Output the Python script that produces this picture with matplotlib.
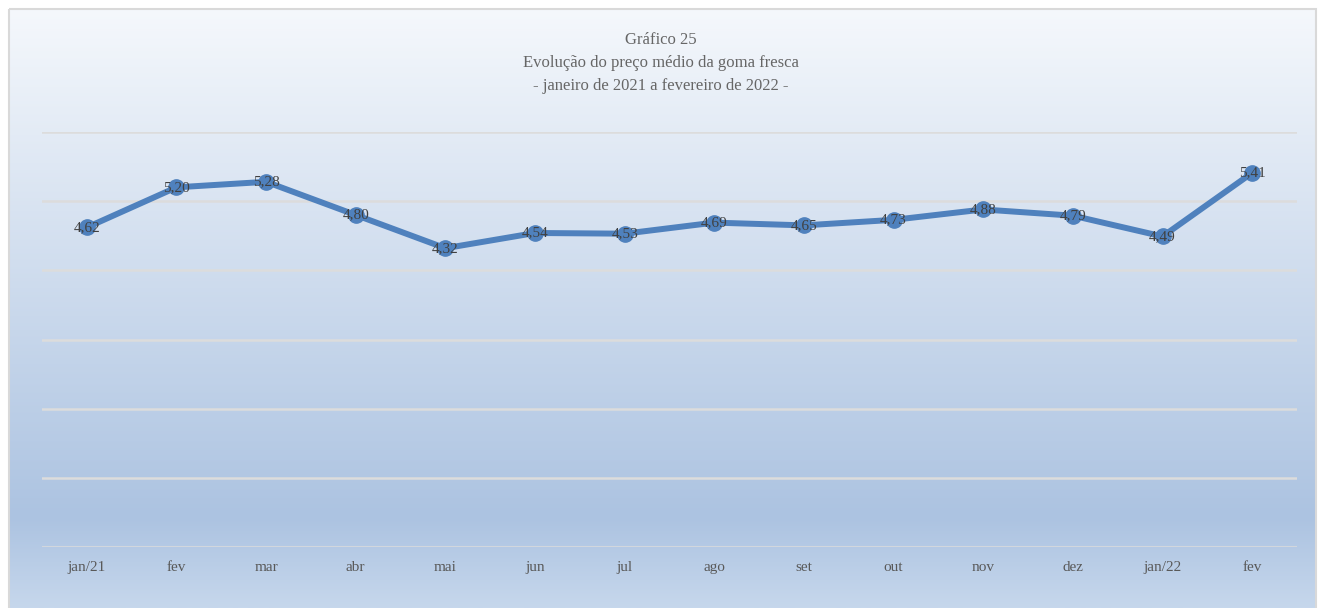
import matplotlib.pyplot as plt
import numpy as np
from matplotlib.patches import Rectangle

months = ["jan/21", "fev", "mar", "abr", "mai", "jun", "jul", "ago",
          "set", "out", "nov", "dez", "jan/22", "fev"]
prices = [4.62, 5.20, 5.28, 4.80, 4.32, 4.54, 4.53, 4.69,
          4.65, 4.73, 4.88, 4.79, 4.49, 5.41]

W, H = 1322, 608
fig = plt.figure(figsize=(W / 100, H / 100), dpi=100)
fig.patch.set_facecolor("white")

# <==== gradient background ====>
bg = fig.add_axes([0, 0, 1, 1])
bg.set_xlim(0, W)
bg.set_ylim(H, 0)
bg.axis("off")
top = np.array([245, 248, 252]) / 255
mid = np.array([172, 195, 225]) / 255
bot = np.array([198, 215, 236]) / 255
ys = np.linspace(0, 1, 300)
cols = []
for t in ys:
    if t < 0.85:
        c = top + (mid - top) * (t / 0.85)
    else:
        c = mid + (bot - mid) * ((t - 0.85) / 0.15)
    cols.append(c)
grad = np.array(cols)[:, None, :]
bg.imshow(grad, extent=[9, W - 6, H, 9], aspect="auto", zorder=0)
bg.add_patch(Rectangle((8.5, 8.5), W - 15, H, fill=False,
                       edgecolor="#d9d9d9", lw=1.5, zorder=1))

# <==== line chart ====>
ax = fig.add_axes([42 / W, 1 - 547 / H, (1297 - 42) / W, (547 - 132) / H])
ax.patch.set_alpha(0)
x = np.arange(len(months))
ax.plot(x, prices, color="#4f81bd", lw=4.3, marker="o", ms=11,
        markerfacecolor="#4f81bd", markeredgecolor="#4f81bd",
        solid_joinstyle="round", zorder=3)
for xi, v in zip(x, prices):
    ax.text(xi, v, f"{v:.2f}".replace(".", ","), ha="center", va="center",
            fontsize=11, color="#404040", family="Liberation Serif", zorder=4)

ax.set_xlim(-0.5, len(months) - 0.5)
ax.set_ylim(0, 6)
ax.set_yticks(range(0, 7))
ax.yaxis.grid(True, color="#dcdcdc", lw=1.8)
ax.set_axisbelow(True)
ax.set_yticklabels([])
ax.tick_params(axis="y", length=0)
ax.set_xticks(x)
ax.set_xticklabels(months, family="Liberation Serif", fontsize=11,
                   color="#595959")
ax.tick_params(axis="x", length=0, pad=10)
for s in ax.spines.values():
    s.set_visible(False)

fig.text(0.5, 1 - 40 / H, "Gráfico 25", ha="center", va="center",
         fontsize=12, color="#666666", family="Liberation Serif")
fig.text(0.5, 1 - 63 / H, "Evolução do preço médio da goma fresca",
         ha="center", va="center", fontsize=12, color="#666666",
         family="Liberation Serif")
fig.text(0.5, 1 - 86 / H, "- janeiro de 2021 a fevereiro de 2022 -",
         ha="center", va="center", fontsize=12, color="#666666",
         family="Liberation Serif")

fig.savefig("out.png", dpi=100)
